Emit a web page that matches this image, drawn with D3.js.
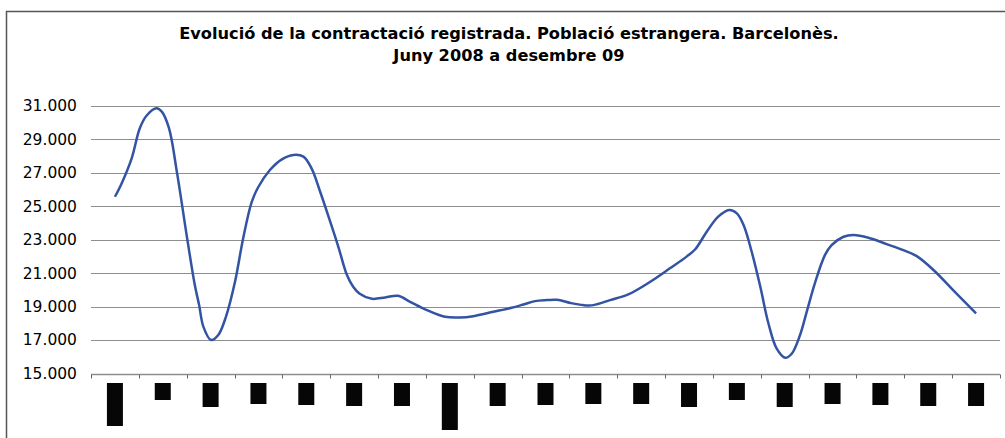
<!DOCTYPE html>
<html>
<head>
<meta charset="utf-8">
<script src="https://cdn.jsdelivr.net/npm/d3@7"></script>
<style>
  html, body { margin: 0; padding: 0; background: #fff; }
  svg { display: block; font-family: "DejaVu Sans", Verdana, sans-serif; }
</style>
</head>
<body>
<div id="chart"></div>
<script>
// Months on the category axis (labels are blacked out in the source)
const months = ["jun 08", "jul 08", "ago 08", "set 08", "oct 08", "nov 08", "des 08",
  "gen 09", "feb 09", "mar 09", "abr 09", "mai 09", "jun 09", "jul 09", "ago 09",
  "set 09", "oct 09", "nov 09", "des 09"];

// Position along the time axis, in months from June 2008
const monthPos = [0, 0.14, 0.35, 0.52, 0.66, 0.87, 0.98, 1.13, 1.30, 1.51,
  1.67, 1.76, 1.85, 2.01, 2.16, 2.32, 2.51, 2.68, 2.86, 3.00,
  3.24, 3.49, 3.73, 3.94, 4.11, 4.29, 4.50, 4.67, 4.85, 4.98,
  5.11, 5.37, 5.65, 5.92, 6.17, 6.52, 6.90, 7.21, 7.49, 7.91,
  8.29, 8.54, 8.78, 9.03, 9.24, 9.52, 9.79, 10.00, 10.35, 10.73,
  11.19, 11.60, 11.95, 12.13, 12.37, 12.61, 12.84, 13.00, 13.14, 13.31,
  13.49, 13.66, 13.83, 14.01, 14.15, 14.32, 14.46, 14.63, 14.84, 14.98,
  15.23, 15.44, 15.75, 16.13, 16.48, 16.76, 17.11, 17.52, 18.00];

// Registered contracts (foreign population)
const contracts = [25570, 26370, 27870, 29670, 30420, 30860, 30660, 29670, 26970, 23080,
  20290, 19090, 17790, 17000, 17300, 18390, 20490, 23080, 25270, 26170,
  27170, 27810, 28070, 27970, 27270, 25870, 24080, 22580, 20890, 20190,
  19790, 19470, 19550, 19650, 19290, 18790, 18390, 18350, 18430, 18690,
  18930, 19130, 19330, 19390, 19410, 19220, 19090, 19090, 19390, 19730,
  20490, 21290, 21990, 22430, 23480, 24380, 24780, 24580, 23880, 22280,
  20190, 17990, 16500, 15940, 16200, 17300, 18690, 20390, 22080, 22680,
  23180, 23280, 23120, 22740, 22380, 22020, 21190, 19990, 18600];

// Heights of the black boxes covering each month label
const labelBoxH = [43, 17, 24, 21, 22, 23, 23, 47, 23, 22, 21, 21, 24, 17, 24, 21, 22, 23, 23];

const yTicks = [15000, 17000, 19000, 21000, 23000, 25000, 27000, 29000, 31000];

const titleLines = ["Evolució de la contractació registrada. Població estrangera. Barcelonès.",
  "Juny 2008 a desembre 09"];

// Layout
const W = 1005, H = 438;
const plot = {left: 91, right: 1000, top: 106, bottom: 373.5};
const lineColor = "#3353a3";
const gridColor = "#8e8e8e";

const fmt = d3.formatLocale({decimal: ",", thousands: ".", grouping: [3], currency: ["", ""]}).format(",");

const svg = d3.select("#chart").append("svg")
  .attr("width", W)
  .attr("height", H);

// chart frame
svg.append("rect")
  .attr("x", 6.5).attr("y", 11.5)
  .attr("width", W + 20).attr("height", H + 20)
  .attr("fill", "none")
  .attr("stroke", "#555")
  .attr("stroke-width", 1.5);

// title
svg.append("g")
  .selectAll("text")
  .data(titleLines)
  .join("text")
    .attr("x", 509)
    .attr("y", (d, i) => 39 + i * 22)
    .attr("text-anchor", "middle")
    .attr("font-size", 16.2)
    .attr("font-weight", "bold")
    .attr("fill", "#000")
    .text(d => d);

// scales
const x = d3.scaleBand()
  .domain(months)
  .range([plot.left, plot.right]);

const xPos = d3.scaleLinear()
  .domain([-0.5, months.length - 0.5])
  .range([plot.left, plot.right]);

const y = d3.scaleLinear()
  .domain([15000, 31000])
  .range([plot.bottom, plot.top]);

// gridlines
svg.append("g")
  .selectAll("line")
  .data(yTicks.filter(d => d > 15000))
  .join("line")
    .attr("x1", plot.left)
    .attr("x2", plot.right)
    .attr("y1", d => Math.round(y(d)) + 0.5)
    .attr("y2", d => Math.round(y(d)) + 0.5)
    .attr("stroke", gridColor)
    .attr("stroke-width", 1.2);

// y labels
svg.append("g")
  .selectAll("text")
  .data(yTicks)
  .join("text")
    .attr("x", 77)
    .attr("y", d => y(d))
    .attr("dy", "0.35em")
    .attr("text-anchor", "end")
    .attr("font-size", 15.5)
    .attr("fill", "#000")
    .text(d => fmt(d));

// x axis
const xAxis = svg.append("g")
  .attr("transform", `translate(0,${Math.round(plot.bottom) + 0.5})`);

xAxis.append("line")
  .attr("x1", plot.left)
  .attr("x2", plot.right)
  .attr("stroke", gridColor)
  .attr("stroke-width", 1.5);

const boundaries = months.map(m => x(m)).concat([plot.right]);
xAxis.selectAll("line.tick")
  .data(boundaries)
  .join("line")
    .attr("class", "tick")
    .attr("x1", d => Math.round(d) + 0.5)
    .attr("x2", d => Math.round(d) + 0.5)
    .attr("y1", 0)
    .attr("y2", 4)
    .attr("stroke", "#666")
    .attr("stroke-width", 1);

// black boxes over the month labels
svg.append("g")
  .selectAll("rect")
  .data(months)
  .join("rect")
    .attr("x", d => x(d) + x.bandwidth() / 2 - 8)
    .attr("y", 383)
    .attr("width", 16)
    .attr("height", (d, i) => labelBoxH[i])
    .attr("fill", "#060606");

// line
const line = d3.line()
  .x((d, i) => xPos(monthPos[i]))
  .y(d => y(d))
  .curve(d3.curveCatmullRom.alpha(0.5));

svg.append("path")
  .datum(contracts)
  .attr("d", line)
  .attr("fill", "none")
  .attr("stroke", lineColor)
  .attr("stroke-width", 2.5)
  .attr("stroke-linejoin", "round");
</script>
</body>
</html>
